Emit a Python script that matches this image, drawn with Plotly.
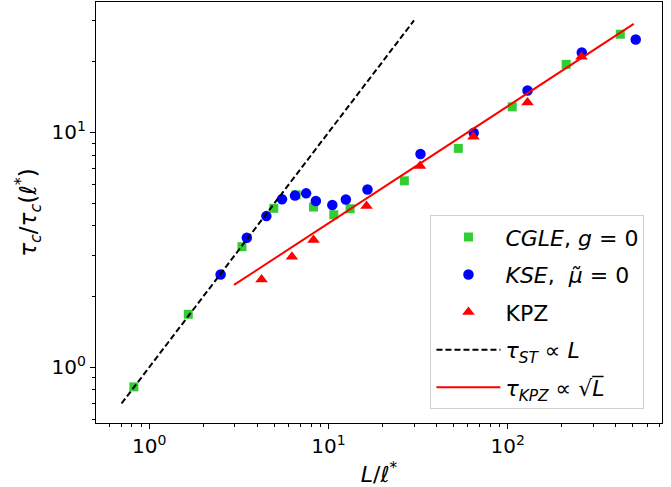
import plotly.graph_objects as go

# ---- data ----
cgle_x = [0.82, 1.65, 3.29, 4.95, 6.6, 8.25, 10.7, 13.2, 26.5, 53.0, 106, 212, 425]
cgle_y = [0.824, 1.68, 3.26, 4.75, 5.42, 4.81, 4.46, 4.73, 6.22, 8.55, 12.85, 19.5, 26.2]

kse_x = [2.5, 3.5, 4.5, 5.5, 6.5, 7.5, 8.5, 10.5, 12.5, 16.5, 32.6, 64.6, 129, 259, 518]
kse_y = [2.48, 3.56, 4.40, 5.19, 5.38, 5.50, 5.10, 4.91, 5.18, 5.71, 8.09, 9.96, 15.1, 21.9, 24.9]

kpz_x = [4.23, 6.25, 8.25, 16.3, 32.4, 64.4, 129, 258]
kpz_y = [2.36, 2.95, 3.48, 4.86, 7.2, 9.58, 13.4, 21.0]

st_x = [0.70, 30.0]
st_y = [0.70, 30.0]

kpzfit_x = [2.97, 505]
kpzfit_y = [2.24, 29.0]

xtick_vals = [1, 10, 100]
xtick_text = ["10<sup>0</sup>", "10<sup>1</sup>", "10<sup>2</sup>"]
ytick_vals = [1, 10]
ytick_text = ["10<sup>0</sup>", "10<sup>1</sup>"]

x_minor = [m * 10 ** k for k in (-1, 0, 1, 2) for m in range(2, 10)]
y_minor = [m * 10 ** k for k in (-1, 0, 1) for m in range(2, 10)]

FONT = "DejaVu Sans"

fig = go.Figure()
fig.add_trace(go.Scatter(
    x=cgle_x, y=cgle_y, mode="markers", legendgroup="a",
    name="<i>CGLE</i>, <i>g</i> = 0",
    marker=dict(symbol="square", size=9, color="#32CD32"),
))
fig.add_trace(go.Scatter(
    x=kse_x, y=kse_y, mode="markers", legendgroup="b",
    name="<i>KSE</i>,  <i>μ̃</i> = 0",
    marker=dict(symbol="circle", size=10.5, color="#0000FF"),
))
fig.add_trace(go.Scatter(
    x=kpz_x, y=kpz_y, mode="markers", legendgroup="c",
    name="KPZ",
    marker=dict(symbol="triangle-up", size=11, color="#FF0000"),
))
fig.add_trace(go.Scatter(
    x=st_x, y=st_y, mode="lines", legendgroup="d",
    name="<i>τ</i><sub><i>ST</i></sub> ∝ <i>L</i>",
    line=dict(color="black", width=2, dash="6px,3px"),
))
fig.add_trace(go.Scatter(
    x=kpzfit_x, y=kpzfit_y, mode="lines", legendgroup="e",
    name="<i>τ</i><sub><i>KPZ</i></sub> ∝ √<i>L\u0305</i>",
    line=dict(color="#FF0000", width=2),
))

axis_common = dict(
    showline=True, linecolor="black", linewidth=1.2, mirror=True,
    ticks="outside", ticklen=5, tickwidth=1, tickcolor="black",
    showgrid=False, zeroline=False,
    tickfont=dict(family=FONT, size=20, color="black"),
)

fig.update_xaxes(
    type="log", range=[-0.2975, 2.861],
    tickmode="array", tickvals=xtick_vals, ticktext=xtick_text,
    minor=dict(tickmode="array", tickvals=x_minor, ticks="outside", ticklen=3,
               tickwidth=1, tickcolor="black", showgrid=False),
    title=dict(text="<i>L</i>/<i>ℓ</i><sup>*</sup>", standoff=10,
               font=dict(family=FONT, size=22, color="black")),
    **axis_common,
)
fig.update_yaxes(
    type="log", range=[-0.238, 1.5557],
    tickmode="array", tickvals=ytick_vals, ticktext=ytick_text,
    minor=dict(tickmode="array", tickvals=y_minor, ticks="outside", ticklen=3,
               tickwidth=1, tickcolor="black", showgrid=False),
    title=dict(text="<i>τ</i><sub><i>c</i></sub>/<i>τ</i><sub><i>c</i></sub>(<i>ℓ</i><sup>*</sup>)",
               standoff=8, font=dict(family=FONT, size=23, color="black")),
    **axis_common,
)

fig.update_layout(
    width=671, height=487,
    margin=dict(l=96, r=9, t=2, b=64),
    paper_bgcolor="white", plot_bgcolor="white",
    font=dict(family=FONT, color="black"),
    legend=dict(
        x=0.969, y=0.033, xanchor="right", yanchor="bottom",
        bgcolor="rgba(255,255,255,0.8)", bordercolor="#d0d0d0", borderwidth=1,
        font=dict(family=FONT, size=22, color="black"),
        tracegroupgap=6, itemwidth=64,
    ),
)

fig.write_html("out.html")
